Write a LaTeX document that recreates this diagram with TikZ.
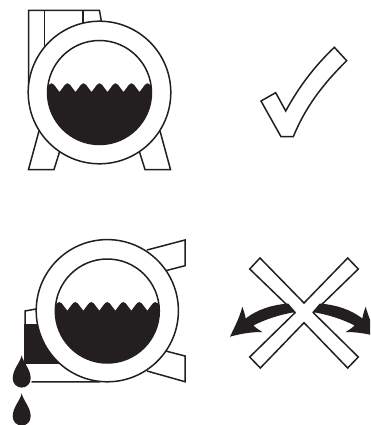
\documentclass[tikz,border=0pt]{standalone}
\definecolor{inkc}{HTML}{231F20}
\tikzset{
  ink/.style={draw=inkc,line width=1.5pt,line join=miter}
}
\newcommand{\tank}[3]{% cx, cy, wave y offset from centre
  \begin{scope}
    \clip (#1,#2) circle (52);
    \fill[inkc] (#1-56,#2+#3)
      \foreach \k in {-4,...,3} {
        -- ++(5.6,-7.4) .. controls +(1.3,-1.7) and +(-1.3,-1.7) .. ++(4.8,0) -- ++(5.6,7.4)
      }
      -- (#1+72,#2+60) -- (#1-72,#2+60) -- (#1-72,#2+#3) -- cycle;
  \end{scope}
  \draw[ink] (#1,#2) circle (52);
}
\begin{document}
\begin{tikzpicture}[x=1pt,y=-1pt]
\useasboundingbox (0,0) rectangle (370,425);
\clip (0,0) rectangle (370,425);
% --- top tank ---
\draw[ink] (28.5,92) -- (28.5,10.5) -- (99.5,10.5) -- (101.5,22);
\draw[ink] (44.5,10.5) -- (44.5,46);
\draw[ink] (83,10.5) -- (83,23);
\draw[ink] (39,131) -- (28.5,169.5) -- (54,169.5) -- (59.5,152);
\draw[ink] (160,131) -- (170.5,169.5) -- (145,169.5) -- (139.5,152);
\draw[ink,fill=white] (99.5,92.5) circle (71.3);
\tank{99.5}{92.5}{-0.5}
% --- check ---
\draw[ink] (261,101) -- (275.7,92.7) -- (285.7,111)
  .. controls (300,85) and (315,66) .. (334.3,47.3) -- (346.7,60.7)
  .. controls (322,85) and (305,108) .. (293.3,136.7) -- (281,136.7) -- cycle;
% --- bottom tank ---
\draw[ink] (147,250) -- (185,240) -- (185,265.7) -- (165.7,270.7);
\draw[ink] (165.7,351) -- (185,356) -- (185,381.7) -- (147,371);
\draw[ink] (36,309) -- (25,311) -- (25,381.9) -- (100,381.9);
\fill[inkc] (24.3,324) rectangle (70,363.5);
\draw[ink,fill=white] (107.3,310.7) circle (71.1);
\tank{107.3}{311}{-0.3}
% --- drops ---
\fill[white] (21.7,378.5) circle (10.5);
\foreach \y in {355.3,393.3} {
  \fill[inkc] (21.7,\y) .. controls (23,\y+7) and (30.7,\y+14) .. (30.7,\y+23)
    .. controls (30.7,\y+28.5) and (26.5,\y+32.3) .. (21.7,\y+32.3)
    .. controls (16.9,\y+32.3) and (12.7,\y+28.5) .. (12.7,\y+23)
    .. controls (12.7,\y+14) and (20.4,\y+7) .. (21.7,\y) -- cycle;
}
% --- cross ---
\draw[ink] (260,258) -- (304,303) -- (347.7,258) -- (358.3,269) -- (313.3,312.7)
  -- (358.3,357) -- (347.7,368) -- (304,322.7) -- (260.3,368) -- (249.7,357)
  -- (295,312.7) -- (249.7,269) -- cycle;
% --- arrows ---
\fill[inkc] (288.3,303.6) .. controls (273,304.5) and (257,309.5) .. (245.7,318.5)
  .. controls (245,315) and (244,311) .. (242.3,306.7)
  .. controls (239.5,318) and (234,328) .. (230,336.7)
  .. controls (241,333.5) and (252,332) .. (262.3,332)
  .. controls (259,330) and (256,328) .. (253.3,325.5)
  .. controls (265,319.5) and (280,314.5) .. (295.5,312) -- cycle;
\fill[inkc] (319.7,303.6) .. controls (335,304.5) and (351,309.5) .. (362.3,318.5)
  .. controls (363,315) and (364,311) .. (365.7,306.7)
  .. controls (368.5,318) and (374,328) .. (378,336.7)
  .. controls (367,333.5) and (356,332) .. (345.7,332)
  .. controls (349,330) and (352,328) .. (354.7,325.5)
  .. controls (343,319.5) and (328,314.5) .. (312.5,312) -- cycle;
\end{tikzpicture}
\end{document}
